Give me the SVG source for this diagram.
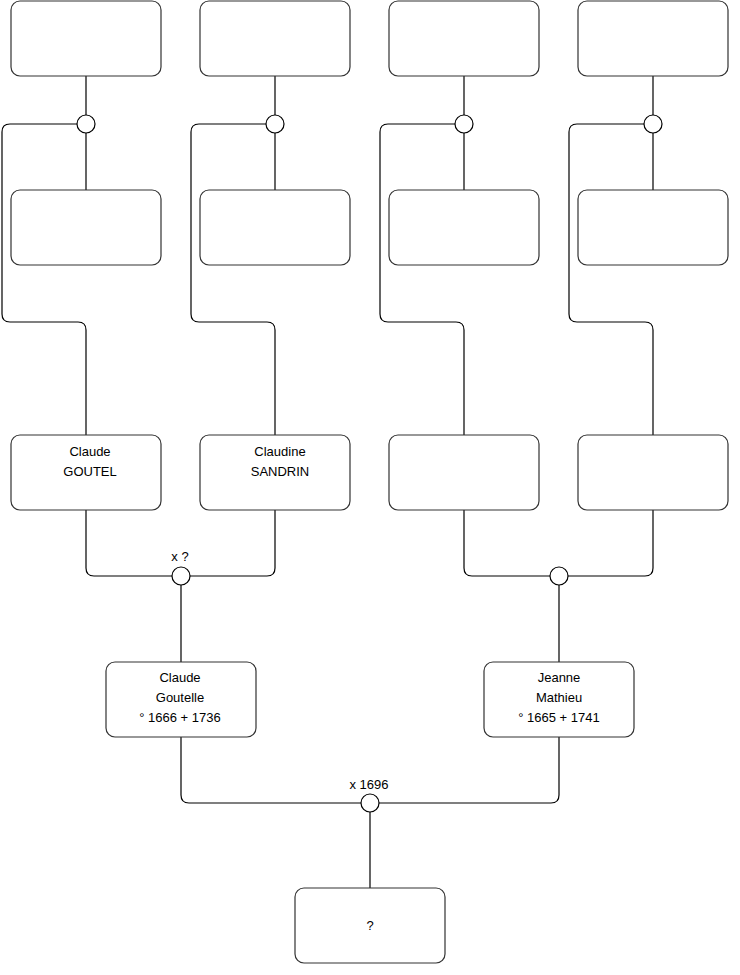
<svg xmlns="http://www.w3.org/2000/svg" width="740" height="975" viewBox="0 0 740 975">
<style>
.box{fill:#fff;stroke:#333;stroke-width:1.2}
.ln{fill:none;stroke:#000;stroke-width:1.2}
.dot{fill:#fff;stroke:#000;stroke-width:1.2}
text{font-family:"Liberation Sans",Arial,sans-serif;font-size:13px;fill:#000;text-anchor:middle}
</style>
<rect width="740" height="975" fill="#fff"/>
<g id="connectors">
<path class="ln" d="M86,76 V115 M86,133 V190 M275,76 V115 M275,133 V190 M464,76 V115 M464,133 V190 M653,76 V115 M653,133 V190"/>
<path class="ln" d="M77,124 H10 Q2,124 2,132 V314 Q2,322 10,322 H78 Q86,322 86,330 V435"/>
<path class="ln" d="M266,124 H199 Q191,124 191,132 V314 Q191,322 199,322 H267 Q275,322 275,330 V435"/>
<path class="ln" d="M455,124 H388 Q380,124 380,132 V314 Q380,322 388,322 H456 Q464,322 464,330 V435"/>
<path class="ln" d="M644,124 H577 Q569,124 569,132 V314 Q569,322 577,322 H645 Q653,322 653,330 V435"/>
<path class="ln" d="M86,510 V568 Q86,576 94,576 H172 M275,510 V568 Q275,576 267,576 H190 M181,585 V662"/>
<path class="ln" d="M464,510 V568 Q464,576 472,576 H550 M653,510 V568 Q653,576 645,576 H568 M559,585 V662"/>
<path class="ln" d="M181,737 V795 Q181,803 189,803 H361 M559,737 V795 Q559,803 551,803 H379 M370,812 V888"/>
</g>
<g id="u1"><circle class="dot" cx="86" cy="124" r="9"/></g>
<g id="u2"><circle class="dot" cx="275" cy="124" r="9"/></g>
<g id="u3"><circle class="dot" cx="464" cy="124" r="9"/></g>
<g id="u4"><circle class="dot" cx="653" cy="124" r="9"/></g>
<g id="u5"><circle class="dot" cx="181" cy="576" r="9"/><text x="180" y="561">x ?</text></g>
<g id="u6"><circle class="dot" cx="559" cy="576" r="9"/></g>
<g id="u7"><circle class="dot" cx="370" cy="803" r="9"/><text x="369" y="789">x 1696</text></g>
<g id="b1"><rect class="box" x="11" y="1" width="150" height="75" rx="9"/></g>
<g id="b2"><rect class="box" x="200" y="1" width="150" height="75" rx="9"/></g>
<g id="b3"><rect class="box" x="389" y="1" width="150" height="75" rx="9"/></g>
<g id="b4"><rect class="box" x="578" y="1" width="150" height="75" rx="9"/></g>
<g id="b5"><rect class="box" x="11" y="190" width="150" height="75" rx="9"/></g>
<g id="b6"><rect class="box" x="200" y="190" width="150" height="75" rx="9"/></g>
<g id="b7"><rect class="box" x="389" y="190" width="150" height="75" rx="9"/></g>
<g id="b8"><rect class="box" x="578" y="190" width="150" height="75" rx="9"/></g>
<g id="claude-goutel"><rect class="box" x="11" y="435" width="150" height="75" rx="9"/><text x="90" y="456">Claude</text><text x="90" y="476">GOUTEL</text></g>
<g id="claudine-sandrin"><rect class="box" x="200" y="435" width="150" height="75" rx="9"/><text x="280" y="456">Claudine</text><text x="280" y="476">SANDRIN</text></g>
<g id="b11"><rect class="box" x="389" y="435" width="150" height="75" rx="9"/></g>
<g id="b12"><rect class="box" x="578" y="435" width="150" height="75" rx="9"/></g>
<g id="claude-goutelle"><rect class="box" x="106" y="662" width="150" height="75" rx="9"/><text x="180" y="682">Claude</text><text x="180" y="702">Goutelle</text><text x="180" y="722">° 1666 + 1736</text></g>
<g id="jeanne-mathieu"><rect class="box" x="484" y="662" width="150" height="75" rx="9"/><text x="559" y="682">Jeanne</text><text x="559" y="702">Mathieu</text><text x="559" y="722">° 1665 + 1741</text></g>
<g id="child"><rect class="box" x="295" y="888" width="150" height="75" rx="9"/><text x="370" y="930">?</text></g>
</svg>
